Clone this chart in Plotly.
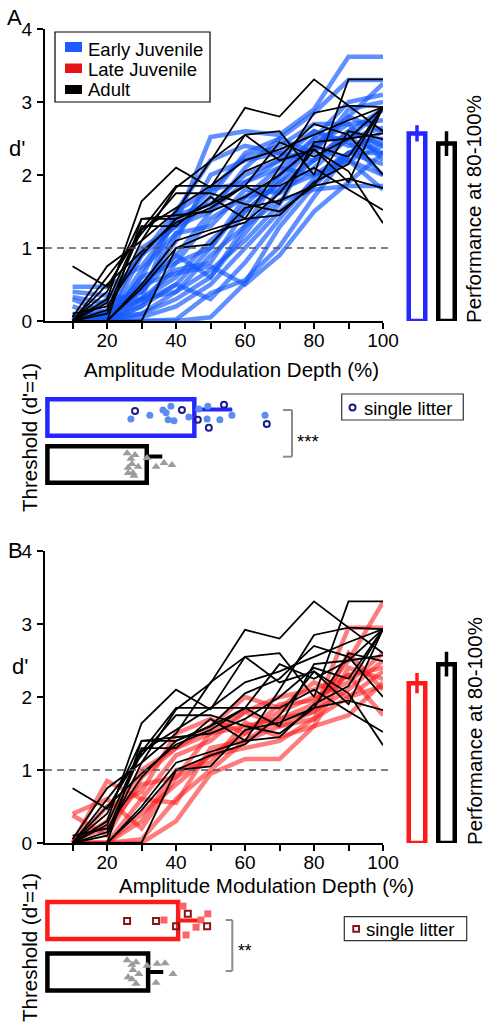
import plotly.graph_objects as go

# ---------------- data ----------------
depth = [10, 20, 30, 40, 50, 60, 70, 80, 90, 100]
depth_ticktext = ["", "20", "", "40", "", "60", "", "80", "", "100"]
dprime_ticks = [0, 1, 2, 3, 4]

early_juvenile = [
    [0.47, 0.47, 0.75, 1.35, 2.52, 2.60, 2.55, 2.90, 3.62, 3.62],
    [0.33, 0.24, 0.40, 1.20, 1.70, 2.30, 2.50, 2.85, 3.30, 3.30],
    [0.05, 0.00, 0.20, 0.50, 1.00, 1.60, 2.00, 2.40, 2.80, 3.25],
    [0.00, 0.00, 0.00, 0.00, 0.05, 0.52, 1.29, 1.85, 2.30, 2.15],
    [0.00, 0.00, 0.00, 0.02, 0.38, 0.56, 1.02, 1.70, 2.30, 2.60],
    [0.00, 0.00, 0.60, 1.45, 1.60, 2.00, 2.20, 2.60, 2.40, 2.50],
    [0.05, 0.10, 0.30, 0.70, 0.80, 1.50, 1.90, 2.20, 2.60, 2.90],
    [0.00, 0.00, 0.50, 0.90, 1.50, 1.90, 2.10, 2.00, 2.30, 2.30],
    [0.20, 0.05, 0.10, 0.30, 0.60, 1.20, 1.80, 2.00, 2.20, 1.80],
    [0.00, 0.05, 1.00, 1.30, 1.80, 2.25, 2.40, 2.70, 2.70, 2.75],
    [0.00, 0.00, 0.20, 0.80, 1.40, 1.70, 1.80, 2.20, 2.50, 2.30],
    [0.00, 0.10, 0.40, 0.90, 0.60, 1.30, 2.00, 2.50, 3.00, 3.10],
    [0.10, 0.00, 0.05, 0.20, 0.50, 1.00, 1.50, 1.90, 2.20, 2.00],
    [0.00, 0.00, 0.70, 1.20, 1.30, 1.80, 1.75, 2.10, 2.50, 2.65],
    [0.30, 0.10, 0.50, 0.65, 0.75, 0.50, 0.90, 1.50, 1.90, 2.30],
    [0.00, 0.30, 0.90, 1.50, 1.80, 1.90, 2.20, 2.35, 2.80, 2.60],
    [0.00, 0.00, 0.10, 0.40, 0.90, 1.30, 1.65, 1.80, 1.85, 1.85],
    [0.00, 0.00, 0.60, 0.80, 1.00, 1.70, 2.10, 2.50, 2.50, 2.90],
    [0.05, 0.05, 0.25, 0.50, 0.30, 0.80, 1.40, 1.95, 2.30, 2.45],
    [0.00, 0.00, 0.90, 1.30, 1.50, 2.10, 2.50, 2.30, 2.90, 3.00],
    [0.00, 0.15, 0.30, 0.40, 0.70, 1.10, 1.60, 2.40, 2.20, 2.40],
    [0.00, 0.00, 0.45, 1.10, 2.00, 2.20, 2.30, 2.20, 2.60, 2.40],
    [0.40, 0.35, 0.30, 0.60, 1.10, 1.50, 1.90, 2.40, 2.70, 2.20],
    [0.00, 0.00, 0.30, 1.50, 2.20, 2.40, 2.30, 2.60, 2.45, 2.00],
]

late_juvenile = [
    [0.38, 0.10, 0.90, 1.30, 1.50, 1.60, 1.70, 1.90, 2.50, 3.30],
    [0.00, 0.85, 0.60, 1.20, 1.40, 1.80, 1.60, 1.80, 2.95, 2.95],
    [0.00, 0.00, 0.00, 0.30, 0.95, 1.15, 1.15, 1.60, 1.75, 2.20],
    [0.40, 0.60, 0.20, 0.90, 1.50, 1.80, 2.00, 2.10, 2.30, 1.75],
    [0.00, 0.00, 0.40, 0.80, 1.20, 1.50, 1.90, 1.95, 2.30, 2.40],
    [0.00, 0.30, 1.00, 1.30, 1.60, 2.00, 1.85, 2.20, 2.00, 2.15],
    [0.00, 0.00, 0.60, 0.55, 1.30, 1.40, 1.60, 1.70, 2.60, 2.10],
    [0.00, 0.50, 0.70, 1.50, 1.70, 1.50, 1.80, 2.00, 2.20, 2.60],
    [0.00, 0.00, 0.30, 1.00, 1.10, 1.65, 1.45, 1.60, 2.40, 2.25],
    [0.05, 0.20, 0.80, 0.90, 1.20, 1.30, 1.40, 1.70, 2.00, 2.35],
    [0.00, 0.00, 0.05, 0.60, 1.00, 1.40, 1.70, 1.80, 2.10, 2.50],
]

adult = [
    [0.75, 0.47, 1.25, 1.55, 1.85, 2.20, 2.35, 2.55, 2.75, 2.93],
    [0.00, 0.10, 1.10, 1.83, 2.19, 2.92, 2.80, 3.31, 2.95, 2.93],
    [0.00, 0.30, 1.64, 2.10, 1.83, 2.55, 2.60, 2.00, 3.31, 3.31],
    [0.00, 0.00, 1.40, 1.40, 1.60, 1.85, 1.85, 2.10, 1.80, 1.52],
    [0.00, 0.15, 1.25, 1.85, 1.85, 1.85, 2.45, 2.25, 2.50, 2.93],
    [0.05, 0.75, 1.10, 1.50, 2.20, 2.55, 2.20, 2.35, 2.05, 1.34],
    [0.00, 0.50, 0.95, 1.35, 1.55, 1.85, 1.60, 2.45, 2.50, 2.57],
    [0.00, 0.00, 0.45, 1.00, 1.20, 1.35, 1.75, 2.35, 1.90, 2.93],
    [0.00, 0.00, 0.00, 1.00, 1.05, 1.55, 1.65, 1.85, 2.60, 2.49],
    [0.00, 0.25, 1.30, 1.30, 1.70, 1.40, 2.10, 2.85, 2.95, 2.60],
    [0.00, 0.60, 1.20, 1.75, 1.75, 1.60, 1.50, 1.85, 1.95, 1.82],
    [0.00, 0.00, 0.50, 1.10, 1.25, 1.40, 1.45, 1.90, 2.15, 2.93],
    [0.10, 0.20, 0.90, 1.40, 1.60, 2.05, 2.25, 2.70, 2.55, 2.00],
    [0.00, 0.40, 1.40, 1.45, 1.50, 1.70, 2.00, 2.40, 2.25, 2.93],
]

# performance at 80-100% (d')
perf_A_groups = [0, 1]          # early juvenile, adult
perf_A_mean = [2.57, 2.43]
perf_A_err = [0.11, 0.17]
perf_B_groups = [0, 1]          # late juvenile, adult
perf_B_mean = [2.19, 2.45]
perf_B_err = [0.14, 0.17]

# thresholds (AM depth at d'=1)
thrA_mean = [28.8, 42.6]        # adult, early juvenile
thrA_sem = [4.5, 11.0]
early_thr = [24.2, 29.7, 33.5, 34.4, 35.8, 35.0, 36.7, 41.0, 43.9, 46.3, 46.5, 50.0, 53.5, 63.1]
early_thr_jit = [-0.03, 0.05, 0.16, 0.10, 0.24, -0.05, -0.07, 0.01, 0.18, -0.03, 0.24, -0.05, 0.05, 0.05]
early_litter_thr = [25.4, 39.0, 43.6, 46.8, 51.2, 63.6]
early_litter_jit = [0.14, 0.16, -0.05, -0.22, 0.27, -0.14]
adultA_thr = [23.1, 25.4, 24.2, 28.9, 24.5, 26.3, 23.4, 31.5, 33.8, 36.1, 24.8, 23.4, 25.1]
adultA_jit = [0.24, 0.20, 0.12, 0.14, 0.01, -0.05, -0.07, -0.05, 0.03, -0.01, -0.18, -0.18, -0.24]

thrB_mean = [29.2, 37.9]        # adult, late juvenile
thrB_sem = [4.4, 7.0]
late_thr = [33.8, 39.3, 46.5, 44.5, 43.1, 40.2]
late_thr_jit = [0.01, 0.28, 0.13, 0.01, -0.13, -0.28]
late_litter_thr = [23.1, 31.5, 37.3, 40.7, 46.3]
late_litter_jit = [-0.01, -0.01, -0.11, 0.13, -0.11]
adultB_thr = [23.1, 25.7, 24.5, 28.9, 31.8, 34.1, 24.8, 26.5, 23.4, 24.5, 36.4, 31.5, 25.7]
adultB_jit = [0.23, 0.19, 0.14, 0.12, 0.16, 0.17, 0.04, -0.04, -0.10, -0.14, -0.04, -0.21, -0.23]

# ---------------- styling helpers ----------------
W, H = 486, 1029
def fx(px):
    return px / W
def fy(py):
    return 1 - py / H

FONT = "Liberation Sans, Arial, Helvetica, sans-serif"
BLUE_LINE = "rgba(20,90,255,0.68)"
RED_LINE = "rgba(255,30,30,0.58)"
BLUE = "#2626ff"
RED = "#ff1a1a"
NAVY = "#1c1c8c"
DARKRED = "#8b1414"
DOT_BLUE = "#5b8cf0"
DOT_RED = "#ff6464"
GREY = "#9c9c9c"

fig = go.Figure()

# ---- main d' curves
for ys in early_juvenile:
    fig.add_trace(go.Scatter(x=depth, y=ys, mode="lines", line=dict(color=BLUE_LINE, width=4.5),
                             xaxis="x", yaxis="y", hoverinfo="skip"))
for ys in adult:
    fig.add_trace(go.Scatter(x=depth, y=ys, mode="lines", line=dict(color="black", width=1.8),
                             xaxis="x", yaxis="y", hoverinfo="skip"))
for ys in late_juvenile:
    fig.add_trace(go.Scatter(x=depth, y=ys, mode="lines", line=dict(color=RED_LINE, width=4.5),
                             xaxis="x2", yaxis="y2", hoverinfo="skip"))
for ys in adult:
    fig.add_trace(go.Scatter(x=depth, y=ys, mode="lines", line=dict(color="black", width=1.8),
                             xaxis="x2", yaxis="y2", hoverinfo="skip"))

# ---- performance bars
def perf_bar(xv, yv, ev, color, xa, ya):
    fig.add_trace(go.Bar(x=[xv], y=[yv], width=0.56, xaxis=xa, yaxis=ya, cliponaxis=False,
                         marker=dict(color="white", line=dict(color=color, width=4.5)),
                         error_y=dict(type="data", array=[ev], color=color, thickness=3.5, width=0)))

perf_bar(perf_A_groups[0], perf_A_mean[0], perf_A_err[0], BLUE, "x5", "y")
perf_bar(perf_A_groups[1], perf_A_mean[1], perf_A_err[1], "black", "x5", "y")
perf_bar(perf_B_groups[0], perf_B_mean[0], perf_B_err[0], RED, "x6", "y2")
perf_bar(perf_B_groups[1], perf_B_mean[1], perf_B_err[1], "black", "x6", "y2")

# ---- threshold bars
def thr_bar(mean, sem, grp, color, xa, ya, width, err_off):
    fig.add_trace(go.Bar(x=[mean], y=[grp], orientation="h", width=width, xaxis=xa, yaxis=ya,
                         cliponaxis=False,
                         marker=dict(color="white", line=dict(color=color, width=4.5))))
    fig.add_trace(go.Scatter(x=[mean], y=[grp + err_off], mode="markers", xaxis=xa, yaxis=ya,
                             marker=dict(size=1, color="rgba(0,0,0,0)"), cliponaxis=False,
                             error_x=dict(type="data", symmetric=False, array=[sem], arrayminus=[0],
                                          color=color, thickness=4, width=0)))

thr_bar(thrA_mean[1], thrA_sem[1], 1, BLUE, "x3", "y3", 0.78, 0.17)
thr_bar(thrA_mean[0], thrA_sem[0], 0, "black", "x3", "y3", 0.78, 0.17)
thr_bar(thrB_mean[1], thrB_sem[1], 1, RED, "x4", "y4", 0.72, 0.0)
thr_bar(thrB_mean[0], thrB_sem[0], 0, "black", "x4", "y4", 0.72, 0.0)

def pts(xs, jit, grp, xa, ya, marker):
    fig.add_trace(go.Scatter(x=xs, y=[grp + j for j in jit], mode="markers", xaxis=xa, yaxis=ya,
                             cliponaxis=False, marker=marker))

pts(early_thr, early_thr_jit, 1, "x3", "y3", dict(symbol="circle", size=7, color=DOT_BLUE))
pts(early_litter_thr, early_litter_jit, 1, "x3", "y3",
    dict(symbol="circle-open", size=6, color=NAVY, line=dict(width=2)))
pts(adultA_thr, adultA_jit, 0, "x3", "y3", dict(symbol="triangle-up", size=8, color=GREY))

pts(late_thr, late_thr_jit, 1, "x4", "y4", dict(symbol="square", size=7, color=DOT_RED))
pts(late_litter_thr, late_litter_jit, 1, "x4", "y4",
    dict(symbol="square-open", size=6, color=DARKRED, line=dict(width=2)))
pts(adultB_thr, adultB_jit, 0, "x4", "y4", dict(symbol="triangle-up", size=8, color=GREY))

# ---------------- layout ----------------
axis_common = dict(showline=True, linecolor="black", linewidth=2, ticks="outside", ticklen=6,
                   tickwidth=2, tickcolor="black", showgrid=False, zeroline=False,
                   tickfont=dict(family=FONT, size=19, color="black"), automargin=False)
hidden = dict(visible=False, showgrid=False, zeroline=False)

layout = dict(
    width=W, height=H, autosize=False,
    margin=dict(l=0, r=0, t=0, b=0, pad=0, autoexpand=False),
    paper_bgcolor="white", plot_bgcolor="white", showlegend=False, barmode="overlay",
    font=dict(family=FONT, color="black"),
    xaxis=dict(domain=[fx(45), fx(383)], range=[2, 100], anchor="y", tickvals=depth,
               ticktext=depth_ticktext, ticklabelstandoff=-5, **axis_common),
    yaxis=dict(domain=[fy(321), fy(29)], range=[0, 4], anchor="x", tickvals=dprime_ticks,
               ticklabelstandoff=1, **axis_common),
    xaxis2=dict(domain=[fx(45), fx(383)], range=[2, 100], anchor="y2", tickvals=depth,
                ticktext=depth_ticktext, ticklabelstandoff=-5, **axis_common),
    yaxis2=dict(domain=[fy(843), fy(551)], range=[0, 4], anchor="x2", tickvals=dprime_ticks,
                ticklabelstandoff=1, **axis_common),
    xaxis3=dict(domain=[fx(45), fx(383)], range=[-0.7, 97.3], anchor="y3", **hidden),
    yaxis3=dict(domain=[fy(490.35), fy(391.65)], range=[-0.55, 1.55], anchor="x3", **hidden),
    xaxis4=dict(domain=[fx(45), fx(383)], range=[-0.7, 97.3], anchor="y4", **hidden),
    yaxis4=dict(domain=[fy(1000.3), fy(892.2)], range=[-0.55, 1.55], anchor="x4", **hidden),
    xaxis5=dict(domain=[fx(402.25), fx(461.25)], range=[-0.5, 1.5], anchor="y", **hidden),
    xaxis6=dict(domain=[fx(402.25), fx(461.25)], range=[-0.5, 1.5], anchor="y2", **hidden),
)

shapes = []
# dashed d'=1 lines
for yref in ("y", "y2"):
    shapes.append(dict(type="line", xref="paper", yref=yref, x0=fx(45), x1=fx(392), y0=1, y1=1,
                       line=dict(color="#555555", width=1.6, dash="7px,5px"), layer="above"))
# legend box (panel A)
shapes.append(dict(type="rect", xref="paper", yref="paper", x0=fx(55), x1=fx(210), y0=fy(102), y1=fy(32),
                   line=dict(color="black", width=1.2), fillcolor="white", layer="above"))
for (yt, yb, col) in [(42, 52, "#1f5aff"), (63.5, 73, "#e8121a"), (85, 94, "black")]:
    shapes.append(dict(type="rect", xref="paper", yref="paper", x0=fx(65), x1=fx(82), y0=fy(yb), y1=fy(yt),
                       line=dict(width=0), fillcolor=col, layer="above"))
# single-litter boxes
shapes.append(dict(type="rect", xref="paper", yref="paper", x0=fx(341.7), x1=fx(463.3), y0=fy(420), y1=fy(394),
                   line=dict(color="#333333", width=1.2), fillcolor="white"))
shapes.append(dict(type="circle", xref="paper", yref="paper", x0=fx(349.5), x1=fx(355.5), y0=fy(410.5), y1=fy(404.5),
                   line=dict(color=NAVY, width=2)))
shapes.append(dict(type="rect", xref="paper", yref="paper", x0=fx(344.3), x1=fx(466.7), y0=fy(940.7), y1=fy(916.7),
                   line=dict(color="#333333", width=1.2), fillcolor="white"))
shapes.append(dict(type="rect", xref="paper", yref="paper", x0=fx(353.3), x1=fx(359), y0=fy(931.8), y1=fy(926.1),
                   line=dict(color=DARKRED, width=2)))
# significance brackets
for (xl, xr, yt, yb) in [(283, 292, 410, 456.7), (225.7, 232.3, 920, 971)]:
    for seg in [(xl, yt, xr, yt), (xr, yt, xr, yb), (xl, yb, xr, yb)]:
        shapes.append(dict(type="line", xref="paper", yref="paper", x0=fx(seg[0]), y0=fy(seg[1]),
                           x1=fx(seg[2]), y1=fy(seg[3]), line=dict(color="#8c8c8c", width=2)))
layout["shapes"] = shapes

def ann(text, x, y, size, xanchor="center", angle=0, color="black"):
    return dict(text=text, x=fx(x), y=fy(y), xref="paper", yref="paper", showarrow=False,
                xanchor=xanchor, yanchor="middle", textangle=angle,
                font=dict(family=FONT, size=size, color=color))

annotations = [
    ann("A", 14.5, 17.5, 22),
    ann("B", 15.5, 550.5, 22),
    ann("d'", 16.5, 148.5, 22),
    ann("d'", 20, 666, 22),
    ann("Early Juvenile", 85.5, 49, 18.5, xanchor="left"),
    ann("Late Juvenile", 85.5, 69.5, 18.5, xanchor="left"),
    ann("Adult", 85.5, 90, 18.5, xanchor="left"),
    ann("Amplitude Modulation Depth (%)", 231.5, 369.5, 20.5),
    ann("Amplitude Modulation Depth (%)", 266.5, 885, 20.5),
    ann("Performance at 80-100%", 474, 209, 20.5, angle=-90),
    ann("Performance at 80-100%", 474, 731, 20.5, angle=-90),
    ann("Threshold (d'=1)", 29.5, 437.5, 20.5, angle=-90),
    ann("Threshold (d'=1)", 29.5, 947.5, 20.5, angle=-90),
    ann("single litter", 361.5, 408.5, 18.5, xanchor="left"),
    ann("single litter", 364.3, 929, 18.5, xanchor="left"),
    ann("***", 307.5, 441, 18.5),
    ann("**", 245, 951, 17.5),
]
layout["annotations"] = annotations

fig.update_layout(**layout)
fig.write_html("out.html", config={"displayModeBar": False},
               post_script="document.body.style.margin='0px';document.body.style.overflow='hidden';")
